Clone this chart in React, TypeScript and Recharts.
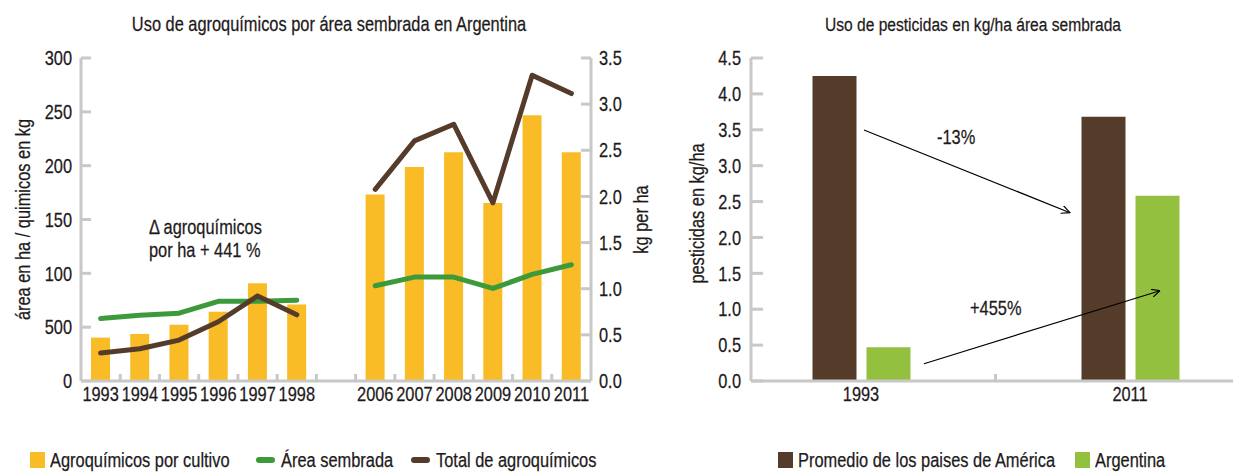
import React from 'react';
import { ComposedChart, BarChart, Bar, Line, XAxis, YAxis, Legend } from 'recharts';

// ---------- data ----------
const years = ['1993', '1994', '1995', '1996', '1997', '1998', '', '2006', '2007', '2008', '2009', '2010', '2011'];
const agroPorCultivo = [0.47, 0.51, 0.61, 0.75, 1.06, 0.83, null, 2.02, 2.32, 2.48, 1.93, 2.88, 2.48];
const areaSembrada = [58, 61, 63, 74, 74, 75, null, 88.5, 96.5, 96.5, 86, 99, 108];
const totalAgro = [26, 30, 38, 55, 79, 61.5, null, 178, 223, 238.5, 165.5, 284, 267];
const leftTicks = [0, 50, 100, 150, 200, 250, 300];
const leftTickLabels = ['0', '500', '100', '150', '200', '250', '300'];
const rightTicks = [0, 0.5, 1, 1.5, 2, 2.5, 3, 3.5];

const pestYears = ['1993', '2011'];
const promedioAmerica = [4.25, 3.68];
const argentina = [0.47, 2.58];
const pestTicks = [0, 0.5, 1, 1.5, 2, 2.5, 3, 3.5, 4, 4.5];

const leftLegend = [
  { label: 'Agroquímicos por cultivo', color: '#f9bc26', kind: 'square', x: 30 },
  { label: 'Área sembrada', color: '#3c9a3b', kind: 'line', x: 256 },
  { label: 'Total de agroquímicos', color: '#553c2a', kind: 'line', x: 411 },
];
const rightLegend = [
  { label: 'Promedio de los paises de América', color: '#553c2a', kind: 'square', x: 138 },
  { label: 'Argentina', color: '#93c13f', kind: 'square', x: 435 },
];

const leftData = years.map((y, i) => ({
  year: y,
  agro: agroPorCultivo[i],
  area: areaSembrada[i],
  total: totalAgro[i],
}));
const pestData = pestYears.map((y, i) => ({ year: y, america: promedioAmerica[i], argentina: argentina[i] }));

// ---------- style ----------
const FONT = "'Liberation Sans', Arial, sans-serif";
const SX = 0.82; // horizontal condensing
const TXT = '#1e1a1b';
const AXIS = '#c8c8c8';
const LEFT_SLOT = 510 / 13;
const PEST_SLOT = 269;

type NTProps = {
  x: number;
  y: number;
  size: number;
  anchor?: 'start' | 'middle' | 'end';
  dy?: string;
  rotate?: number;
  children: React.ReactNode;
};
const NText = ({ x, y, size, anchor = 'start', dy, rotate = 0, children }: NTProps) => (
  <text
    transform={`translate(${x} ${y}) rotate(${rotate}) scale(${SX} 1)`}
    x={0}
    y={0}
    dy={dy}
    textAnchor={anchor}
    fontFamily={FONT}
    fontSize={size}
    fill={TXT}
    stroke={TXT}
    strokeWidth={0.25}
  >
    {children}
  </text>
);

const XTickFactory = (slot: number) => (props: any) => {
  const { x, y, payload, index } = props;
  const axisY = y - 6;
  return (
    <g>
      {index > 0 && (
        <line x1={x - slot / 2} x2={x - slot / 2} y1={axisY} y2={axisY - 7} stroke={AXIS} strokeWidth={3} />
      )}
      <NText x={x} y={y} dy="0.71em" anchor="middle" size={20}>
        {payload.value}
      </NText>
    </g>
  );
};

const YTickFactory = (side: 'left' | 'right', margin: number, len: number, fmt: (v: number) => string) => (props: any) => {
  const { x, y, payload } = props;
  const axisX = side === 'left' ? x + margin : x - margin;
  const inner = side === 'left' ? axisX + len : axisX - len;
  return (
    <g>
      <line x1={axisX} x2={inner} y1={y} y2={y} stroke={AXIS} strokeWidth={3} />
      <NText x={x} y={y} dy="0.36em" anchor={side === 'left' ? 'end' : 'start'} size={20}>
        {fmt(payload.value)}
      </NText>
    </g>
  );
};

const axisTitle = (text: string, dx: number, dy: number) => (props: any) => {
  const vb = props.viewBox || {};
  const cx = vb.x + dx;
  const cy = vb.y + vb.height / 2 + dy;
  return (
    <NText x={cx} y={cy} rotate={-90} anchor="middle" dy="0.35em" size={20}>
      {text}
    </NText>
  );
};

const legendContent = (items: typeof leftLegend) => () => (
  <div style={{ position: 'relative', height: 33, fontFamily: FONT }}>
    {items.map((it) => (
      <React.Fragment key={it.label}>
        {it.kind === 'square' ? (
          <div style={{ position: 'absolute', left: it.x, top: 12, width: 15, height: 16, background: it.color }} />
        ) : (
          <div style={{ position: 'absolute', left: it.x, top: 17, width: 19, height: 6, borderRadius: 3, background: it.color }} />
        )}
        <div
          style={{
            position: 'absolute',
            left: it.x + (it.kind === 'square' ? 20 : 25),
            top: 8,
            lineHeight: '24px',
            fontSize: 20,
            color: TXT,
            whiteSpace: 'nowrap',
            transform: `scaleX(${SX})`,
            transformOrigin: 'left center',
            WebkitTextStroke: '0.25px ' + TXT,
          }}
        >
          {it.label}
        </div>
      </React.Fragment>
    ))}
  </div>
);

export default function App() {
  const leftFmt = (v: number) => leftTickLabels[leftTicks.indexOf(v)] ?? String(v);
  const oneDec = (v: number) => v.toFixed(1);
  return (
    <div style={{ position: 'absolute', left: 0, top: 0, width: 1234, height: 473, background: '#fff', fontFamily: FONT }}>
      <div style={{ position: 'absolute', left: 0, top: 0 }}>
        <ComposedChart width={660} height={473} data={leftData} margin={{ top: 58, right: 0, bottom: 62, left: 0 }} barSize={19}>
          <XAxis
            dataKey="year"
            interval={0}
            height={30}
            tickSize={0}
            tickMargin={6}
            tickLine={false}
            axisLine={{ stroke: AXIS, strokeWidth: 3 }}
            tick={XTickFactory(LEFT_SLOT)}
          />
          <YAxis
            yAxisId="left"
            orientation="left"
            width={81}
            domain={[0, 300]}
            ticks={leftTicks}
            interval={0}
            tickSize={0}
            tickMargin={9}
            tickLine={false}
            axisLine={{ stroke: AXIS, strokeWidth: 3 }}
            tick={YTickFactory('left', 9, 10, leftFmt)}
            label={axisTitle('área en ha / quimicos en kg', 23, 0)}
          />
          <YAxis
            yAxisId="right"
            orientation="right"
            width={69}
            domain={[0, 3.5]}
            ticks={rightTicks}
            interval={0}
            tickSize={0}
            tickMargin={8}
            tickLine={false}
            axisLine={{ stroke: AXIS, strokeWidth: 3 }}
            tick={YTickFactory('right', 8, 10, oneDec)}
            label={axisTitle('kg per ha', 50, 0)}
          />
          <Bar yAxisId="right" dataKey="agro" fill="#f9bc26" isAnimationActive={false} />
          <Line yAxisId="left" dataKey="area" stroke="#3c9a3b" strokeWidth={5} dot={false} activeDot={false} strokeLinecap="round" strokeLinejoin="round" isAnimationActive={false} />
          <Line yAxisId="left" dataKey="total" stroke="#553c2a" strokeWidth={5} dot={false} activeDot={false} strokeLinecap="round" strokeLinejoin="round" isAnimationActive={false} />
          <Legend layout="horizontal" verticalAlign="middle" align="center" wrapperStyle={{ top: 440, left: 0, width: 660, height: 33 }} content={legendContent(leftLegend)} />
        </ComposedChart>
      </div>
      <div style={{ position: 'absolute', left: 640, top: 0 }}>
        <BarChart width={594} height={473} data={pestData} margin={{ top: 58, right: 1, bottom: 62, left: 0 }} barSize={44} barGap={10}>
          <XAxis
            dataKey="year"
            interval={0}
            height={30}
            padding={{ left: -24.5, right: -31.5 }}
            tickSize={0}
            tickMargin={6}
            tickLine={false}
            axisLine={{ stroke: AXIS, strokeWidth: 3 }}
            tick={XTickFactory(PEST_SLOT)}
          />
          <YAxis
            width={111}
            domain={[0, 4.5]}
            ticks={pestTicks}
            interval={0}
            tickSize={0}
            tickMargin={10}
            tickLine={false}
            axisLine={{ stroke: AXIS, strokeWidth: 3 }}
            tick={YTickFactory('left', 10, 12, oneDec)}
            label={axisTitle('pesticidas en kg/ha', 57, -6)}
          />
          <Bar dataKey="america" fill="#553c2a" isAnimationActive={false} />
          <Bar dataKey="argentina" fill="#93c13f" isAnimationActive={false} />
          <Legend layout="horizontal" verticalAlign="middle" align="center" wrapperStyle={{ top: 440, left: 0, width: 594, height: 33 }} content={legendContent(rightLegend)} />
        </BarChart>
      </div>
      <svg width={1234} height={473} style={{ position: 'absolute', left: 0, top: 0, pointerEvents: 'none' }}>
        <defs>
          <marker id="arrowOpen" viewBox="0 0 10 10" refX="9.5" refY="5" markerWidth="9" markerHeight="9" orient="auto" markerUnits="userSpaceOnUse">
            <path d="M0,0.5 L9.5,5 L0,9.5" fill="none" stroke="#000" strokeWidth="1.3" />
          </marker>
        </defs>
        <NText x={329} y={31} anchor="middle" size={20}>
          Uso de agroquímicos por área sembrada en Argentina
        </NText>
        <NText x={973} y={31} anchor="middle" size={19}>
          Uso de pesticidas en kg/ha área sembrada
        </NText>
        <NText x={149} y={234} size={20}>Δ agroquímicos</NText>
        <NText x={149} y={257} size={20}>por ha + 441 %</NText>
        <line x1={864} y1={130} x2={1070} y2={212.7} stroke="#000" strokeWidth={1.2} markerEnd="url(#arrowOpen)" />
        <line x1={924} y1={363.7} x2={1160} y2={290.7} stroke="#000" strokeWidth={1.2} markerEnd="url(#arrowOpen)" />
        <NText x={937} y={144} size={20}>-13%</NText>
        <NText x={970} y={315} size={20}>+455%</NText>
      </svg>
    </div>
  );
}
